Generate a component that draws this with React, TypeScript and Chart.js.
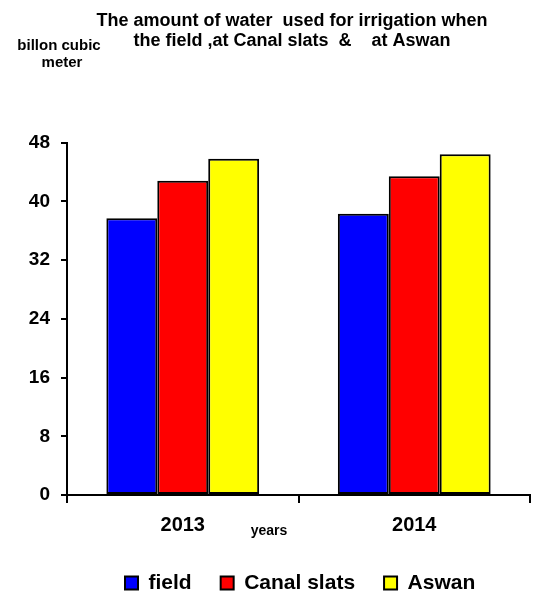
import React, { useEffect, useRef } from "react";
import { Chart, registerables } from "chart.js";

Chart.register(...registerables);

const categories = ["2013", "2014"];
const fieldValues = [37.7, 38.3];
const canalValues = [42.8, 43.4];
const aswanValues = [45.8, 46.4];
const seriesNames = ["field", "Canal slats", "Aswan"];
const titleLines = [
  "The amount of water  used for irrigation when",
  "the field ,at Canal slats  &    at Aswan",
];
const yUnitLines = ["billon cubic", "meter"];
const xTitle = "years";

const FONT = "Arial, 'Liberation Sans', sans-serif";

const layoutTweaks = {
  id: "layoutTweaks",
  beforeLayout(chart: any) {
    const legend = chart.legend;
    if (legend && !legend._fitPatched) {
      const orig = legend.fit.bind(legend);
      legend.fit = function () {
        orig();
        this.height = 46;
      };
      legend._fitPatched = true;
    }
  },
  afterLayout(chart: any) {
    const t = chart.titleBlock;
    if (t) {
      t.left = 54;
      t.right = 530;
    }
    const l = chart.legend;
    if (l) {
      const pad = l.options.labels.padding;
      l.left = 125 - pad;
      l.right = 538;
      l.top = 572.4 - pad;
      l.bottom = 593;
    }
  },
};

const annotations = {
  id: "annotations",
  afterDraw(chart: any) {
    const { ctx, chartArea } = chart;
    ctx.save();
    ctx.fillStyle = "#000";
    ctx.textAlign = "center";
    ctx.textBaseline = "middle";
    ctx.font = `bold 15px ${FONT}`;
    ctx.fillText(yUnitLines[0], chartArea.left - 8, chartArea.top - 97);
    ctx.fillText(yUnitLines[1], chartArea.left - 5, chartArea.top - 80);
    ctx.font = `bold 14px ${FONT}`;
    ctx.fillText(xTitle, (chartArea.left + chartArea.right) / 2 - 29.5, chartArea.bottom + 36);
    ctx.restore();
  },
};

export default function App() {
  const ref = useRef<HTMLCanvasElement>(null);
  useEffect(() => {
    const mk = (label: string, data: number[], color: string) => ({
      label,
      data,
      backgroundColor: color,
      borderColor: "#000",
      borderWidth: 2,
      borderSkipped: false,
    });
    const chart = new Chart(ref.current!, {
      type: "bar",
      data: {
        labels: categories,
        datasets: [
          mk(seriesNames[0], fieldValues, "#0000ff"),
          mk(seriesNames[1], canalValues, "#ff0000"),
          mk(seriesNames[2], aswanValues, "#ffff00"),
        ],
      },
      options: {
        responsive: false,
        animation: false,
        devicePixelRatio: 1,
        layout: { padding: { left: 0, right: 8, top: 0, bottom: 0 } },
        datasets: { bar: { barPercentage: 1, categoryPercentage: 0.66 } },
        plugins: {
          tooltip: { enabled: false },
          title: {
            display: true,
            text: titleLines,
            color: "#000",
            font: { family: FONT, size: 18, weight: "bold", lineHeight: 1.1 },
            padding: { top: 11, bottom: 92 },
          },
          legend: {
            position: "bottom",
            align: "start",
            labels: {
              color: "#000",
              boxWidth: 13,
              boxHeight: 13,
              padding: 29,
              font: { family: FONT, size: 21, weight: "bold" },
            },
          },
        },
        scales: {
          x: {
            border: { color: "#000", width: 2 },
            grid: { drawOnChartArea: false, drawTicks: true, tickLength: 8, color: "#000", lineWidth: 2 },
            ticks: { color: "#000", padding: 10, font: { family: FONT, size: 20, weight: "bold" } },
          },
          y: {
            min: 0,
            max: 48,
            afterFit(scale: any) {
              scale.width = 67;
            },
            border: { color: "#000", width: 2 },
            grid: { drawOnChartArea: false, drawTicks: true, tickLength: 6, color: "#000", lineWidth: 2 },
            ticks: {
              stepSize: 8,
              color: "#000",
              padding: 11,
              font: { family: FONT, size: 19, weight: "bold" },
            },
          },
        },
      },
      plugins: [layoutTweaks, annotations],
    });
    return () => chart.destroy();
  }, []);
  return (
    <div style={{ position: "fixed", left: 0, top: 0, width: 538, height: 593, background: "#fff" }}>
      <canvas ref={ref} width={538} height={593} />
    </div>
  );
}
